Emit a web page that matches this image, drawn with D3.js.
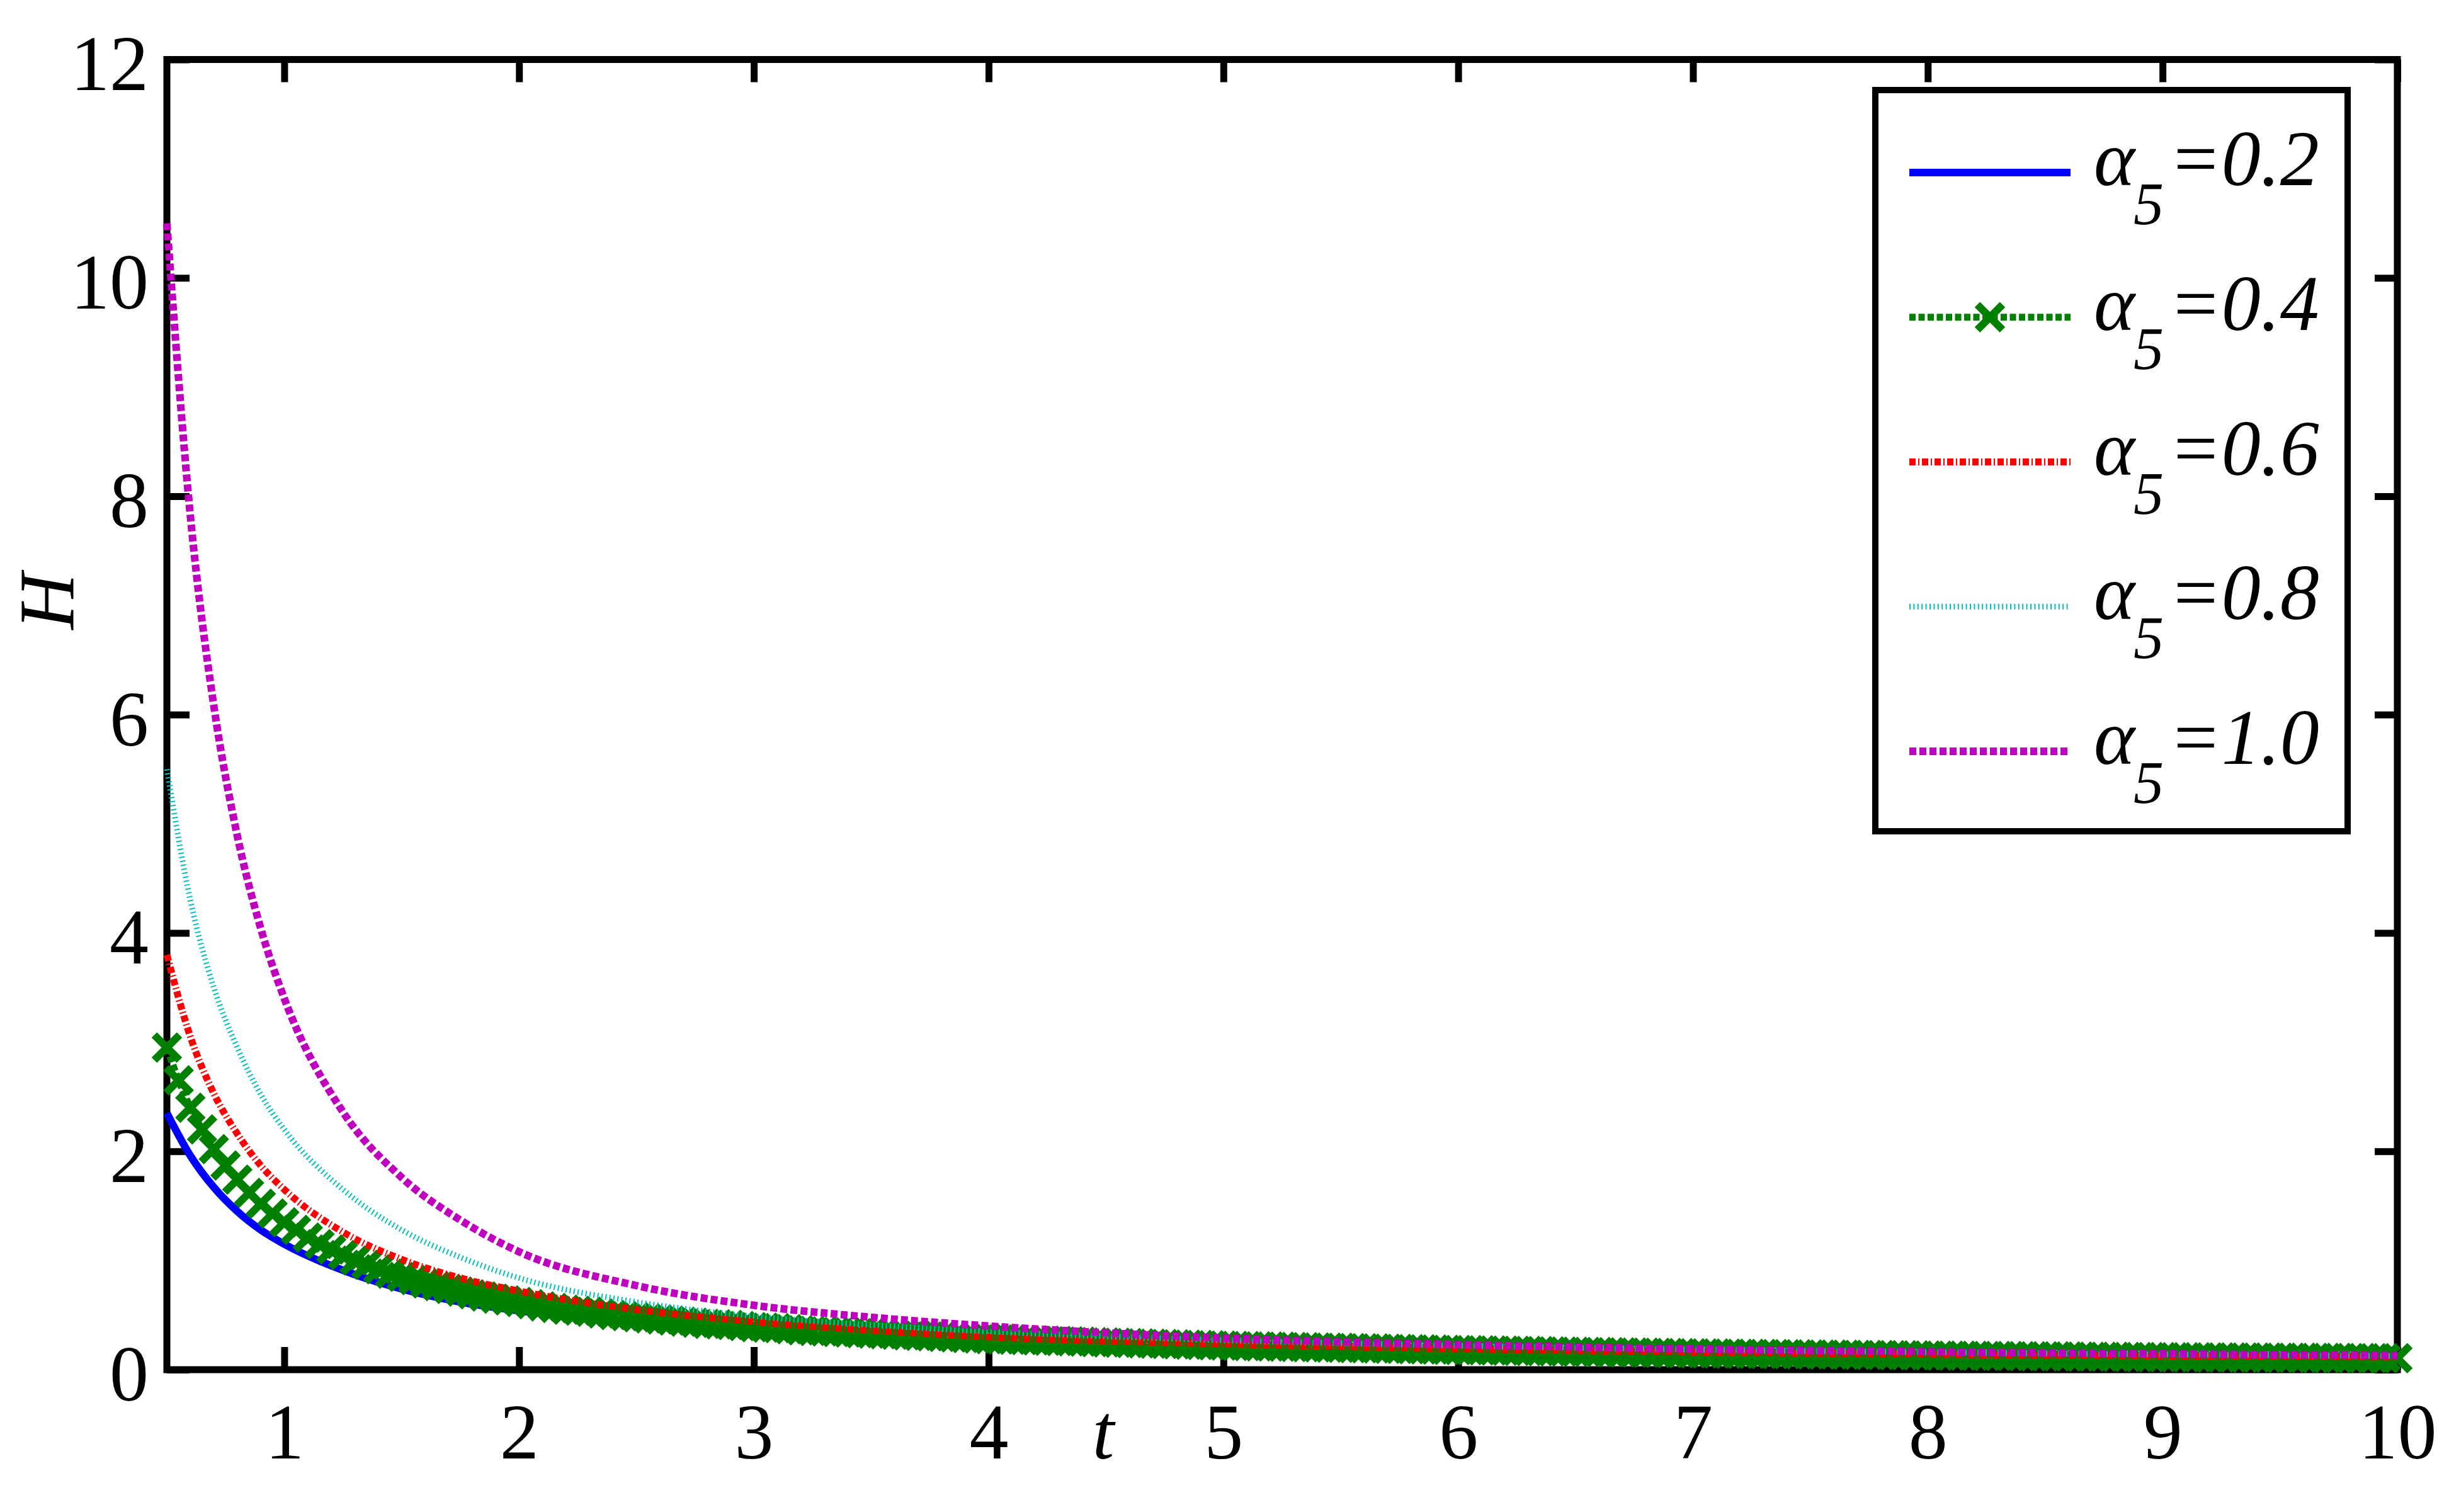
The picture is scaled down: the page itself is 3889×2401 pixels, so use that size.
<!DOCTYPE html>
<html>
<head>
<meta charset="utf-8">
<script src="https://cdn.jsdelivr.net/npm/d3@7/dist/d3.min.js"></script>
<style>
  body { margin: 0; background: #fff; }
</style>
</head>
<body>
<div id="chart"></div>
<script>
// values
var tGrid = [0.5, 0.6, 0.7, 0.8, 0.9, 1, 1.25, 1.5, 1.75, 2, 2.5, 3, 3.5, 4, 5, 6, 7, 8, 9, 10];
var hA02 = [2.35, 1.96, 1.67, 1.45, 1.28, 1.15, 0.91, 0.74, 0.62, 0.54, 0.42, 0.34, 0.28, 0.24, 0.185, 0.15, 0.125, 0.105, 0.09, 0.08];
var hA06 = [3.80, 3.05, 2.53, 2.16, 1.87, 1.65, 1.26, 1.01, 0.84, 0.72, 0.55, 0.44, 0.36, 0.30, 0.235, 0.19, 0.16, 0.14, 0.125, 0.115];
var hA08 = [5.50, 4.30, 3.50, 2.95, 2.52, 2.20, 1.65, 1.28, 1.03, 0.84, 0.62, 0.49, 0.41, 0.35, 0.27, 0.22, 0.185, 0.16, 0.14, 0.125];
var hA10 = [10.5, 7.82, 6.08, 4.89, 4.04, 3.40, 2.36, 1.76, 1.37, 1.08, 0.77, 0.59, 0.48, 0.40, 0.29, 0.23, 0.19, 0.165, 0.145, 0.13];

// alpha5 = 0.4 has a marker at every sample, t = 0.5, 0.55, ... 10
var greenStart = 0.5, greenStep = 0.05;
var hA04 = [
    2.95, 2.65, 2.40, 2.20, 2.02, 1.87, 1.74, 1.62, 1.52, 1.43, 1.35,
    1.28, 1.21, 1.15, 1.10, 1.05, 1.00, 0.96, 0.92, 0.88, 0.85, 0.82, 0.79, 0.765, 0.74, 0.715, 0.69, 0.67, 0.65, 0.635, 0.62,
    0.60, 0.58, 0.565, 0.55, 0.54, 0.53, 0.515, 0.50, 0.49, 0.48, 0.47, 0.46, 0.45, 0.44, 0.43, 0.42, 0.415, 0.41, 0.40, 0.39,
    0.385, 0.38, 0.37, 0.36, 0.355, 0.35, 0.345, 0.34, 0.335, 0.33, 0.325, 0.32, 0.315, 0.31, 0.305, 0.30, 0.295, 0.29, 0.285, 0.28,
    0.277, 0.274, 0.271, 0.268, 0.265, 0.262, 0.259, 0.256, 0.253, 0.25, 0.247, 0.244, 0.241, 0.238, 0.235, 0.232, 0.229, 0.226, 0.223, 0.22,
    0.218, 0.216, 0.214, 0.212, 0.210, 0.208, 0.206, 0.204, 0.202, 0.200, 0.198, 0.196, 0.194, 0.192, 0.190, 0.188, 0.186, 0.184, 0.182, 0.180,
    0.1785, 0.177, 0.1755, 0.174, 0.1725, 0.171, 0.1695, 0.168, 0.1665, 0.165, 0.1635, 0.162, 0.1605, 0.159, 0.1575, 0.156, 0.1545, 0.153, 0.1515, 0.150,
    0.149, 0.148, 0.147, 0.146, 0.145, 0.144, 0.143, 0.142, 0.141, 0.140, 0.139, 0.138, 0.137, 0.136, 0.135, 0.134, 0.133, 0.132, 0.131, 0.130,
    0.129, 0.128, 0.128, 0.127, 0.126, 0.125, 0.125, 0.124, 0.123, 0.1225, 0.122, 0.121, 0.120, 0.119, 0.119, 0.118, 0.117, 0.116, 0.116, 0.115,
    0.1145, 0.114, 0.1135, 0.113, 0.1125, 0.112, 0.1115, 0.111, 0.1105, 0.110, 0.1095, 0.109, 0.1085, 0.108, 0.1075, 0.107, 0.1065, 0.106, 0.1055, 0.105
];

var xTicks = [1, 2, 3, 4, 5, 6, 7, 8, 9, 10];
var yTicks = [0, 2, 4, 6, 8, 10, 12];
var legendLabels = ["0.2", "0.4", "0.6", "0.8", "1.0"];

var width = 3889;
var height = 2401;
var font = "'Liberation Serif', 'Times New Roman', serif";
var fs = 124;

var svg = d3.select("#chart")
    .append("svg")
    .attr("width", width)
    .attr("height", height)
    .style("display", "block");

svg.append("rect").attr("width", width).attr("height", height).attr("fill", "#fff");

var x = d3.scaleLinear().domain([0.5, 10]).range([265, 3807]);
var y = d3.scaleLinear().domain([0, 12]).range([2175, 94.5]);

var greenT = hA04.map(function(d, i) { return greenStart + i * greenStep; });

var series = [
    { t: tGrid, h: hA02, color: "#0000ff", w: 12, dash: null },
    { t: greenT, h: hA04, color: "#008000", w: 11, dash: "10,4.5", marker: true },
    { t: tGrid, h: hA06, color: "#ff0000", w: 11, dash: "10,4,2,4" },
    { t: tGrid, h: hA08, color: "#00bfbf", w: 9, dash: "2,4.4" },
    { t: tGrid, h: hA10, color: "#bf00bf", w: 12, dash: "11,5" }
];

//axes, ticks pointing inward
var tickLen = -36;
var axisStyle = function(g) {
    g.select(".domain").remove();
    g.selectAll(".tick line").attr("stroke", "#000").attr("stroke-width", 11);
    g.selectAll("text")
        .attr("fill", "#000")
        .style("font-family", font)
        .style("font-size", fs + "px");
};

svg.append("g")
    .attr("transform", "translate(0," + y(0) + ")")
    .call(d3.axisBottom(x).tickValues(xTicks).tickSize(tickLen).tickFormat(d3.format("d")))
    .call(axisStyle)
    .call(function(g) { g.selectAll("text").attr("y", 141).attr("dy", null); });

svg.append("g")
    .attr("transform", "translate(" + x(0.5) + ",0)")
    .call(d3.axisLeft(y).tickValues(yTicks).tickSize(tickLen).tickPadding(29).tickFormat(d3.format("d")))
    .call(axisStyle)
    .call(function(g) { g.selectAll("text").attr("dy", "0.39em"); });

svg.append("g")
    .attr("transform", "translate(0," + y(12) + ")")
    .call(d3.axisTop(x).tickValues(xTicks).tickSize(tickLen).tickFormat(""))
    .call(axisStyle);

svg.append("g")
    .attr("transform", "translate(" + x(10) + ",0)")
    .call(d3.axisRight(y).tickValues(yTicks).tickSize(tickLen).tickFormat(""))
    .call(axisStyle);

svg.append("rect")
    .attr("x", x(0.5))
    .attr("y", y(12))
    .attr("width", x(10) - x(0.5))
    .attr("height", y(0) - y(12))
    .attr("fill", "none")
    .attr("stroke", "#000")
    .attr("stroke-width", 11);

// axis labels
svg.append("text")
    .attr("x", 1752)
    .attr("y", 2316)
    .attr("text-anchor", "middle")
    .style("font-family", font)
    .style("font-style", "italic")
    .style("font-size", fs + "px")
    .text("t");

svg.append("text")
    .attr("transform", "translate(116,955) rotate(-90)")
    .attr("text-anchor", "middle")
    .style("font-family", font)
    .style("font-style", "italic")
    .style("font-size", fs + "px")
    .text("H");

//curves
var line = d3.line()
    .x(function(d) { return x(d[0]); })
    .y(function(d) { return y(d[1]); })
    .curve(d3.curveMonotoneX);

var xMark = function(s) {
    return "M" + (-s) + "," + (-s) + "L" + s + "," + s + "M" + (-s) + "," + s + "L" + s + "," + (-s);
};

series.forEach(function(s) {
    var pts = s.t.map(function(t, i) { return [t, s.h[i]]; });
    svg.append("path")
        .datum(pts)
        .attr("d", line)
        .attr("fill", "none")
        .attr("stroke", s.color)
        .attr("stroke-width", s.w)
        .attr("stroke-dasharray", s.dash);
    if (s.marker) {
        svg.append("g")
            .selectAll("path")
            .data(pts)
            .enter()
            .append("path")
            .attr("transform", function(d) { return "translate(" + x(d[0]) + "," + y(d[1]) + ")"; })
            .attr("d", xMark(20))
            .attr("fill", "none")
            .attr("stroke", s.color)
            .attr("stroke-width", 12);
    }
});

// legend
var lg = svg.append("g");
lg.append("rect")
    .attr("x", 2978)
    .attr("y", 143)
    .attr("width", 750)
    .attr("height", 1177)
    .attr("fill", "#fff")
    .attr("stroke", "#000")
    .attr("stroke-width", 10);

var rowY = d3.scaleLinear().domain([0, 4]).range([274, 1193]);

legendLabels.forEach(function(lab, i) {
    var s = series[i];
    var yy = rowY(i);
    lg.append("line")
        .attr("x1", 3032).attr("x2", 3288)
        .attr("y1", yy).attr("y2", yy)
        .attr("stroke", s.color)
        .attr("stroke-width", s.w)
        .attr("stroke-dasharray", s.dash);
    if (s.marker) {
        lg.append("path")
            .attr("transform", "translate(3160," + yy + ")")
            .attr("d", xMark(20))
            .attr("fill", "none")
            .attr("stroke", s.color)
            .attr("stroke-width", 12);
    }
    var txt = lg.append("text")
        .attr("x", 3325)
        .attr("y", yy + 20)
        .style("font-family", font)
        .style("font-style", "italic")
        .style("font-size", fs + "px");
    txt.append("tspan").text("\u03b1");
    txt.append("tspan").attr("dy", 62).attr("dx", -2).style("font-size", "96px").text("5");
    txt.append("tspan").attr("dy", -62).attr("dx", 8).text("=" + lab);
});
</script>
</body>
</html>
